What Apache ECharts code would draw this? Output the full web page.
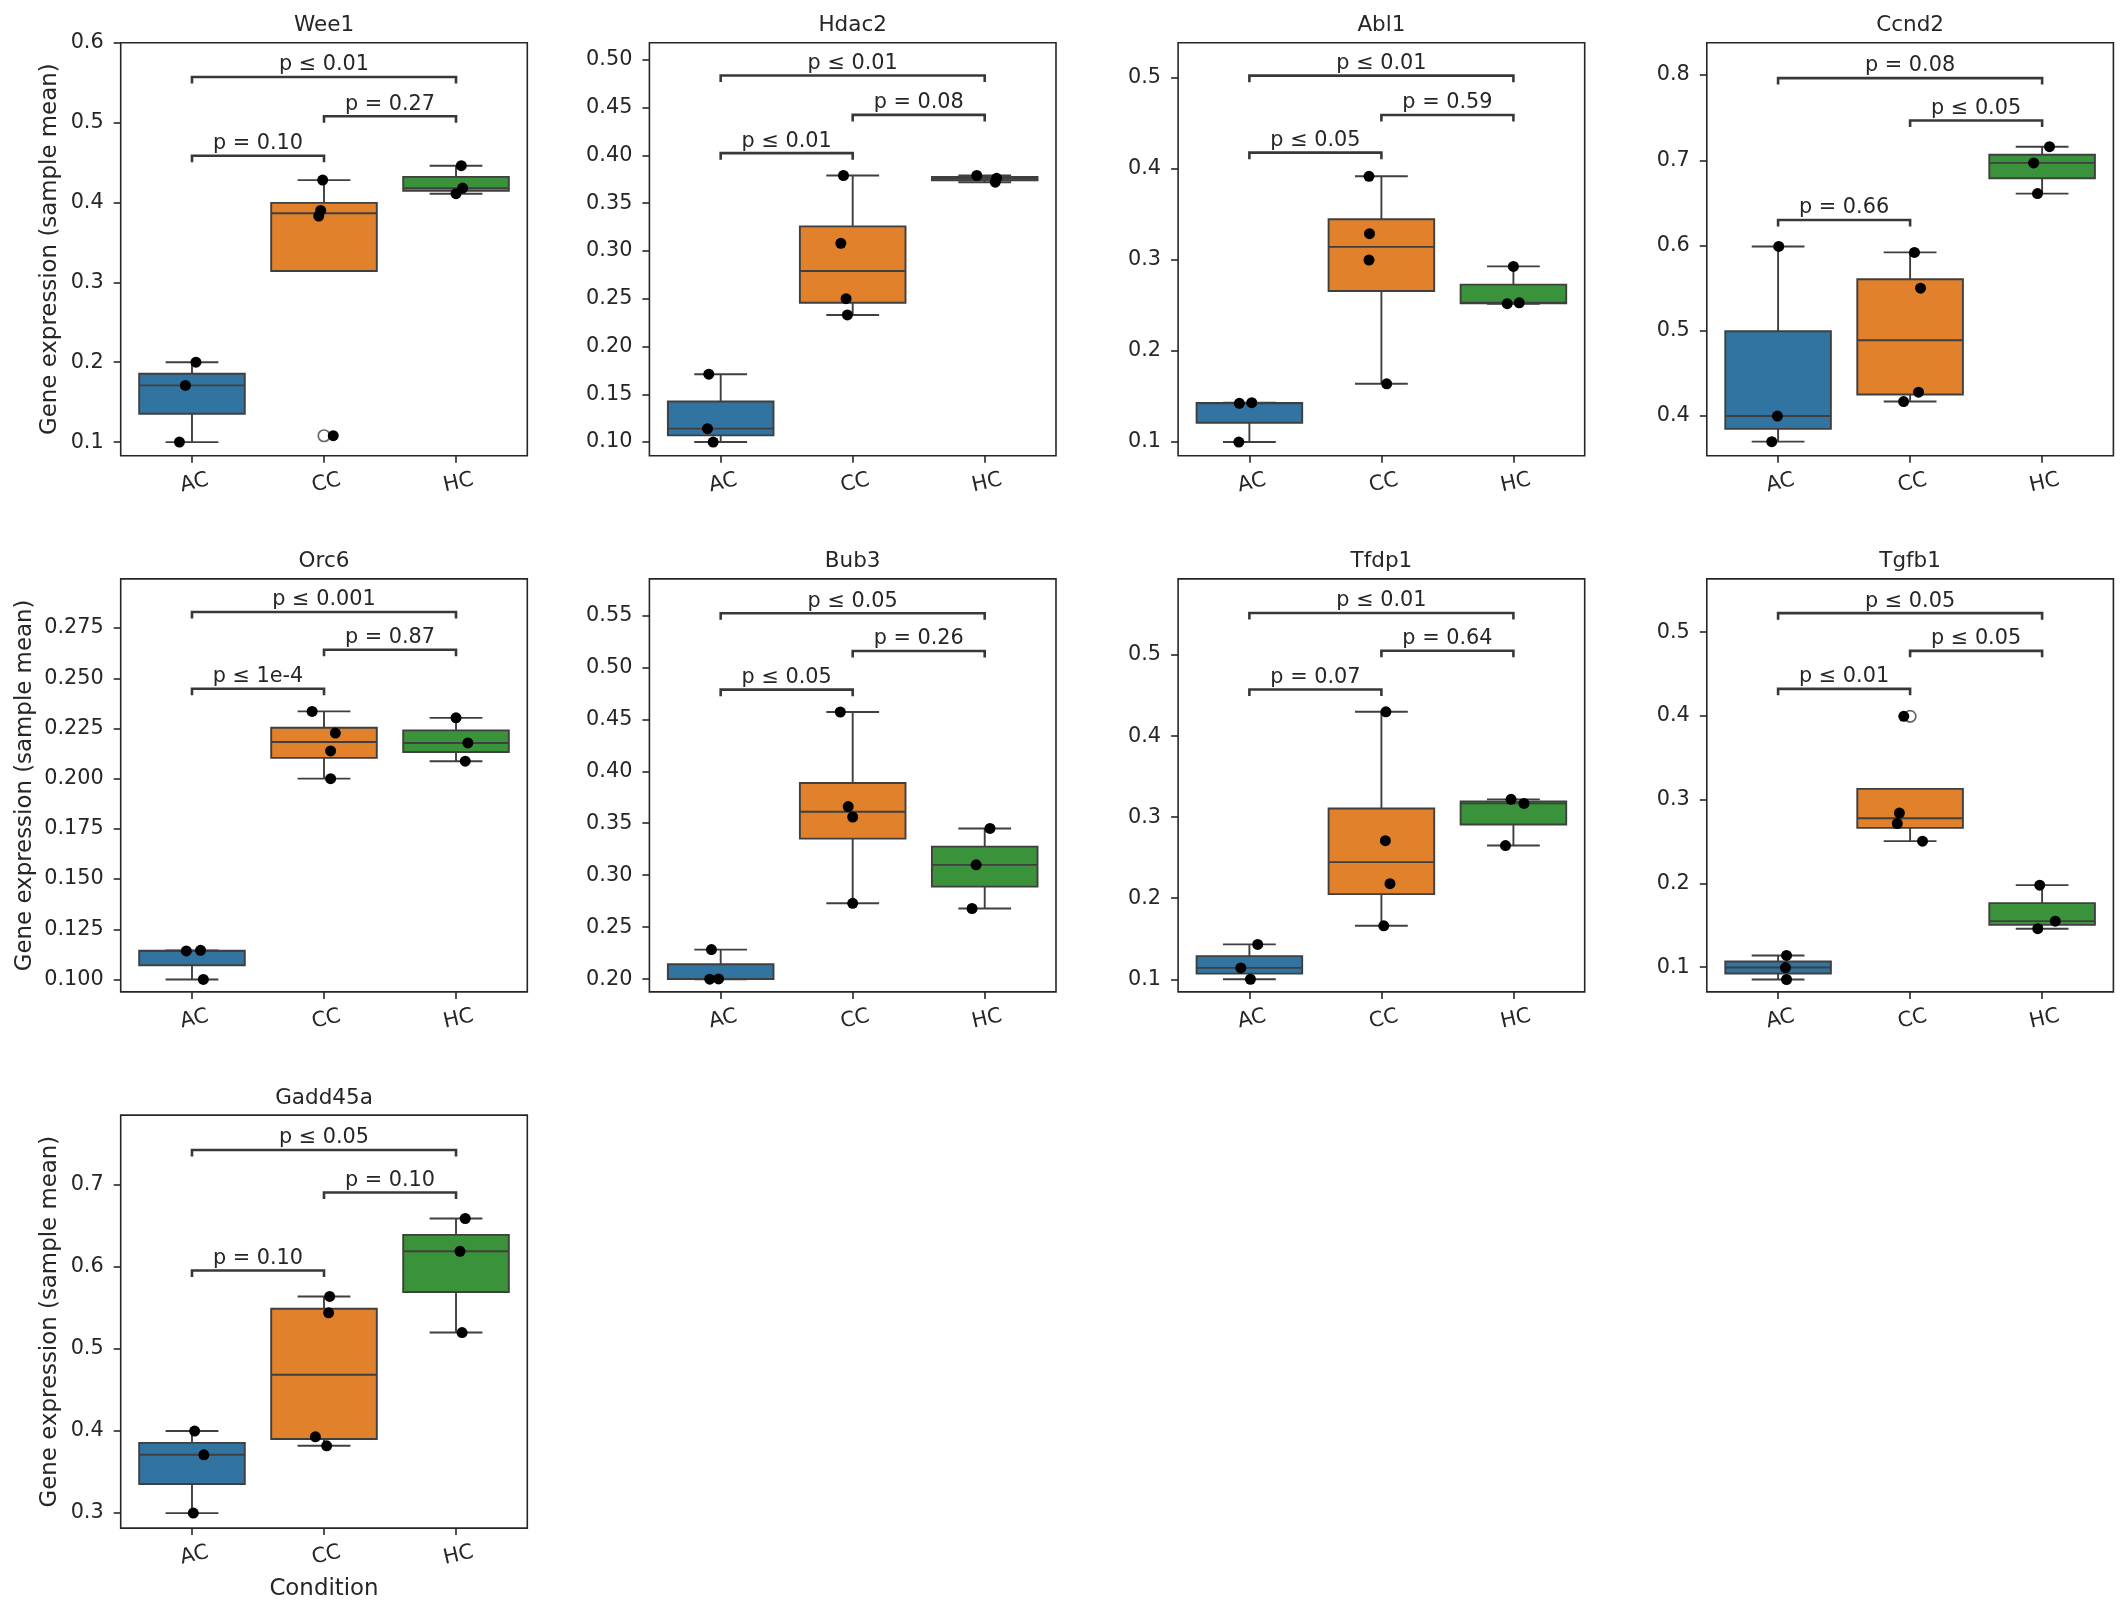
<!DOCTYPE html>
<html lang="en">
<head>
<meta charset="UTF-8">
<title>Gene expression by condition</title>
<script src="https://cdn.jsdelivr.net/npm/echarts@6/dist/echarts.min.js"></script>
<style>body{margin:0;background:#fff}</style>
</head>
<body>
<div id="main" style="width:2126px;height:1617px"></div>
<script>
var conditions = ['AC', 'CC', 'HC'];
var genes = ['Wee1', 'Hdac2', 'Abl1', 'Ccnd2', 'Orc6', 'Bub3', 'Tfdp1', 'Tgfb1', 'Gadd45a'];

// sample means per gene, one list per condition [AC, CC, HC]
var wee1    = [[0.200, 0.171, 0.100], [0.428, 0.390, 0.383, 0.108], [0.446, 0.418, 0.411]];
var hdac2   = [[0.171, 0.114, 0.100], [0.379, 0.308, 0.250, 0.233], [0.379, 0.376, 0.372]];
var abl1    = [[0.1425, 0.1432, 0.100], [0.392, 0.329, 0.300, 0.164], [0.293, 0.252, 0.253]];
var ccnd2   = [[0.599, 0.400, 0.370], [0.592, 0.550, 0.428, 0.417], [0.716, 0.697, 0.661]];
var orc6    = [[0.1142, 0.1145, 0.100], [0.2335, 0.2227, 0.2138, 0.200], [0.2303, 0.2178, 0.2087]];
var bub3    = [[0.2285, 0.200, 0.2003], [0.457, 0.366, 0.356, 0.273], [0.345, 0.310, 0.268]];
var tfdp1   = [[0.143, 0.114, 0.100], [0.430, 0.271, 0.218, 0.166], [0.322, 0.317, 0.265]];
var tgfb1   = [[0.114, 0.0996, 0.0853], [0.3996, 0.284, 0.2716, 0.2505], [0.198, 0.155, 0.146]];
var gadd45a = [[0.400, 0.371, 0.300], [0.564, 0.544, 0.393, 0.382], [0.659, 0.619, 0.520]];

// strip plot jitter (fraction of a category) for the points above
var jitWee1    = [[0.03, -0.05, -0.095], [-0.01, -0.025, -0.04, 0.07], [0.04, 0.05, 0.0]];
var jitHdac2   = [[-0.09, -0.10, -0.057], [-0.07, -0.09, -0.05, -0.04], [-0.06, 0.09, 0.08]];
var jitAbl1    = [[-0.076, 0.018, -0.08], [-0.094, -0.09, -0.094, 0.04], [0.0, -0.047, 0.044]];
var jitCcnd2   = [[0.005, -0.005, -0.048], [0.033, 0.079, 0.064, -0.049], [0.056, -0.064, -0.035]];
var jitOrc6    = [[-0.043, 0.065, 0.086], [-0.09, 0.086, 0.05, 0.05], [0.0, 0.09, 0.07]];
var jitBub3    = [[-0.07, -0.083, -0.016], [-0.094, -0.034, 0.0, 0.0], [0.04, -0.065, -0.096]];
var jitTfdp1   = [[0.063, -0.065, 0.008], [0.034, 0.03, 0.065, 0.018], [-0.018, 0.08, -0.06]];
var jitTgfb1   = [[0.064, 0.056, 0.064], [-0.048, -0.081, -0.097, 0.094], [-0.018, 0.1, -0.033]];
var jitGadd45a = [[0.02, 0.09, 0.01], [0.043, 0.035, -0.065, 0.02], [0.07, 0.03, 0.046]];

var yMin = [0.083, 0.0857, 0.085, 0.3535, 0.0938, 0.1878, 0.0844, 0.0705, 0.2817];
var yMax = [0.600, 0.518, 0.5388, 0.838, 0.2995, 0.585, 0.594, 0.5637, 0.785];

var yTicks = [
    ['0.1', '0.2', '0.3', '0.4', '0.5', '0.6'],
    ['0.10', '0.15', '0.20', '0.25', '0.30', '0.35', '0.40', '0.45', '0.50'],
    ['0.1', '0.2', '0.3', '0.4', '0.5'],
    ['0.4', '0.5', '0.6', '0.7', '0.8'],
    ['0.100', '0.125', '0.150', '0.175', '0.200', '0.225', '0.250', '0.275'],
    ['0.20', '0.25', '0.30', '0.35', '0.40', '0.45', '0.50', '0.55'],
    ['0.1', '0.2', '0.3', '0.4', '0.5'],
    ['0.1', '0.2', '0.3', '0.4', '0.5'],
    ['0.3', '0.4', '0.5', '0.6', '0.7']
];

// comparison brackets: AC-CC, CC-HC, AC-HC
var pairs = [[0, 1], [1, 2], [0, 2]];
var bracketY = [
    [0.4585, 0.508, 0.557], [0.4024, 0.4424, 0.4836], [0.418, 0.4593, 0.5026],
    [0.630, 0.7468, 0.7965], [0.2448, 0.2642, 0.283], [0.4785, 0.5157, 0.5519],
    [0.4576, 0.5053, 0.5519], [0.4324, 0.4778, 0.5228], [0.5956, 0.6907, 0.7425]
];
var pLabels = [
    ['p = 0.10', 'p = 0.27', 'p ≤ 0.01'], ['p ≤ 0.01', 'p = 0.08', 'p ≤ 0.01'],
    ['p ≤ 0.05', 'p = 0.59', 'p ≤ 0.01'], ['p = 0.66', 'p ≤ 0.05', 'p = 0.08'],
    ['p ≤ 1e-4', 'p = 0.87', 'p ≤ 0.001'], ['p ≤ 0.05', 'p = 0.26', 'p ≤ 0.05'],
    ['p = 0.07', 'p = 0.64', 'p ≤ 0.01'], ['p ≤ 0.01', 'p ≤ 0.05', 'p ≤ 0.05'],
    ['p = 0.10', 'p = 0.10', 'p ≤ 0.05']
];

var geneValues = [wee1, hdac2, abl1, ccnd2, orc6, bub3, tfdp1, tgfb1, gadd45a];
var geneJitter = [jitWee1, jitHdac2, jitAbl1, jitCcnd2, jitOrc6, jitBub3, jitTfdp1, jitTgfb1, jitGadd45a];

var palette = ['#3274a1', '#e1812c', '#3a923a'];
var LINE = '#3f3f3f';
var INK = '#262626';
var FONT = 'DejaVu Sans';
var FS = 20.8;      // ticks, p labels
var FS_TITLE = 21.5;
var FS_NAME = 22.9; // axis titles

// matplotlib style box statistics
function quant(s, p) {
    var h = (s.length - 1) * p, lo = Math.floor(h);
    return lo + 1 < s.length ? s[lo] + (h - lo) * (s[lo + 1] - s[lo]) : s[lo];
}
function boxStats(vals) {
    var s = vals.slice().sort(function (a, b) { return a - b; });
    var q1 = quant(s, 0.25), med = quant(s, 0.5), q3 = quant(s, 0.75), iqr = q3 - q1;
    var inside = s.filter(function (v) { return v >= q1 - 1.5 * iqr && v <= q3 + 1.5 * iqr; });
    var lo = Math.min(inside[0], q1), hi = Math.max(inside[inside.length - 1], q3);
    var out = s.filter(function (v) { return inside.indexOf(v) < 0; });
    return {lo: lo, q1: q1, med: med, q3: q3, hi: hi, out: out};
}

function renderBox(params, api) {
    var x = api.value(0);
    var hw = api.size([0.4, 0])[0];
    var cw = hw / 2;
    var c = api.coord([x, api.value(1)])[0];
    var y = function (i) { return api.coord([x, api.value(i)])[1]; };
    var lo = y(1), q1 = y(2), med = y(3), q3 = y(4), hi = y(5);
    var ls = {stroke: LINE, lineWidth: 1.9};
    return {type: 'group', children: [
        {type: 'line', shape: {x1: c, y1: lo, x2: c, y2: q1}, style: ls},
        {type: 'line', shape: {x1: c, y1: q3, x2: c, y2: hi}, style: ls},
        {type: 'line', shape: {x1: c - cw, y1: lo, x2: c + cw, y2: lo}, style: ls},
        {type: 'line', shape: {x1: c - cw, y1: hi, x2: c + cw, y2: hi}, style: ls},
        {type: 'rect', shape: {x: c - hw, y: q3, width: 2 * hw, height: q1 - q3},
            style: {fill: palette[x], stroke: LINE, lineWidth: 1.9}},
        {type: 'line', shape: {x1: c - hw, y1: med, x2: c + hw, y2: med}, style: ls}
    ]};
}

function bracketRenderer(labels) {
    return function (params, api) {
        var a = api.coord([api.value(0), api.value(2)]);
        var b = api.coord([api.value(1), api.value(2)]);
        var leg = 6.5;
        return {type: 'group', children: [
            {type: 'polyline',
                shape: {points: [[a[0], a[1] + leg], [a[0], a[1]], [b[0], b[1]], [b[0], b[1] + leg]]},
                style: {stroke: '#383838', lineWidth: 2.6, fill: null}},
            {type: 'text', x: (a[0] + b[0]) / 2, y: a[1] - 1.5,
                style: {text: labels[params.dataIndex], fill: INK, fontSize: FS, fontFamily: FONT,
                    align: 'center', verticalAlign: 'bottom'}}
        ]};
    };
}

var grids = [], xAxes = [], yAxes = [], titles = [], series = [];

genes.forEach(function (gene, g) {
    var col = g % 4, row = Math.floor(g / 4);
    var left = 120.7 + col * 528.7, top = 42.7 + row * 536.2, w = 406.6, h = 413;
    var ticks = yTicks[g].map(Number);
    var dec = yTicks[g][0].split('.')[1].length;

    grids.push({left: left, top: top, width: w, height: h, show: true,
        borderColor: INK, borderWidth: 1.6, backgroundColor: 'transparent'});
    titles.push({text: gene, left: left + w / 2, top: top - 28, textAlign: 'center', padding: 0,
        textStyle: {fontSize: FS_TITLE, fontWeight: 'normal', fontFamily: FONT, color: INK}});

    xAxes.push({
        gridIndex: g, type: 'value', min: -0.54, max: 2.54,
        name: g === 8 ? 'Condition' : '', nameLocation: 'middle', nameGap: 49,
        nameTextStyle: {fontSize: FS_NAME, fontFamily: FONT, color: INK},
        splitLine: {show: false}, axisLine: {show: false, onZero: false},
        axisTick: {show: true, customValues: [0, 1, 2], length: 7, lineStyle: {color: INK, width: 1.6}},
        axisLabel: {customValues: [0, 1, 2], rotate: 13, align: 'center', verticalAlign: 'top', margin: 17,
            fontSize: FS, fontFamily: FONT, color: INK,
            formatter: function (v) { return conditions[Math.round(v)]; }}
    });
    yAxes.push({
        gridIndex: g, type: 'value', min: yMin[g], max: yMax[g],
        name: col === 0 ? 'Gene expression (sample mean)' : '', nameLocation: 'middle',
        nameGap: g === 4 ? 84 : 59,
        nameTextStyle: {fontSize: FS_NAME, fontFamily: FONT, color: INK},
        splitLine: {show: false}, axisLine: {show: false, onZero: false},
        axisTick: {show: true, customValues: ticks, length: 7, lineStyle: {color: INK, width: 1.6}},
        axisLabel: {customValues: ticks, margin: 17, fontSize: FS, fontFamily: FONT, color: INK,
            formatter: function (v) { return v.toFixed(dec); }}
    });

    var boxes = [], fliers = [], points = [];
    geneValues[g].forEach(function (vals, k) {
        var st = boxStats(vals);
        boxes.push([k, st.lo, st.q1, st.med, st.q3, st.hi]);
        st.out.forEach(function (v) { fliers.push([k, v]); });
        vals.forEach(function (v, j) { points.push([k + geneJitter[g][k][j], v]); });
    });

    var brackets = pairs.map(function (p, k) { return [p[0], p[1], bracketY[g][k]]; });

    series.push({type: 'custom', xAxisIndex: g, yAxisIndex: g, renderItem: renderBox,
        encode: {x: 0, y: [1, 2, 3, 4, 5]}, data: boxes, z: 2, silent: true});
    series.push({type: 'scatter', xAxisIndex: g, yAxisIndex: g, data: fliers, symbolSize: 11.5, z: 3,
        itemStyle: {color: 'rgba(0,0,0,0)', borderColor: LINE, borderWidth: 1.7}, silent: true});
    series.push({type: 'scatter', xAxisIndex: g, yAxisIndex: g, data: points, symbolSize: 11, z: 4,
        itemStyle: {color: '#000', opacity: 1}, silent: true});
    series.push({type: 'custom', xAxisIndex: g, yAxisIndex: g, renderItem: bracketRenderer(pLabels[g]),
        encode: {x: [0, 1], y: 2}, data: brackets, z: 5, silent: true, clip: false});
});

var myChart = echarts.init(document.getElementById('main'));
myChart.setOption({
    backgroundColor: '#fff',
    animation: false,
    title: titles,
    grid: grids,
    xAxis: xAxes,
    yAxis: yAxes,
    series: series
});
</script>
</body>
</html>
